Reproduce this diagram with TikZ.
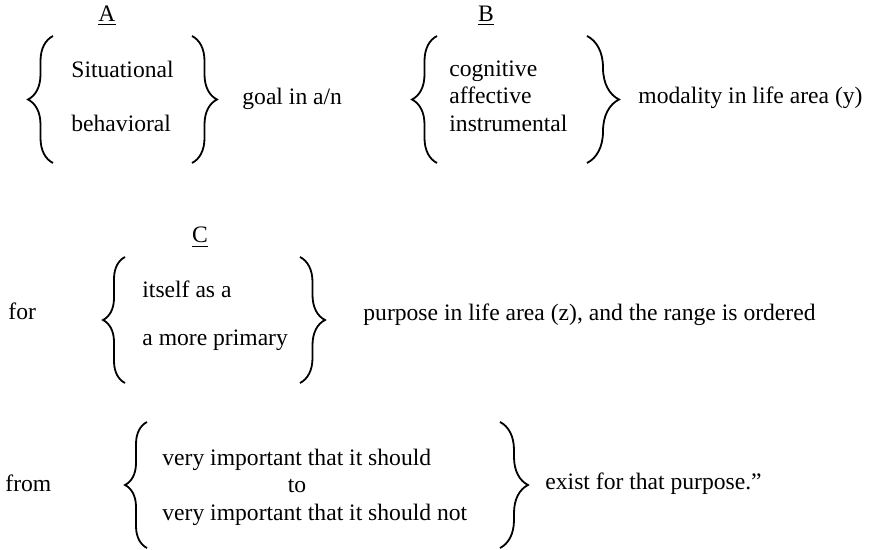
\documentclass[tikz,border=0pt]{standalone}
\usepackage{fontspec}
\setmainfont{Liberation Serif}
\usetikzlibrary{decorations.pathreplacing}

\begin{document}
\begin{tikzpicture}[x=0.5pt,y=-0.5pt,
    txt/.style={anchor=base west,inner sep=0pt,font=\fontsize{11.8}{14}\selectfont},
    head/.style={txt,anchor=base},
    curly/.style={decorate,line width=0.9pt,decoration={brace,amplitude=#1}}]
    \useasboundingbox (0,0) rectangle (871,550);
    % A
    \node[head] (A) at (107,22) {\underline{A}};
    \node[txt] (sit) at (71,78) {Situational};
    \node[txt] (beh) at (71,132) {behavioral};
    \node[txt] (goal) at (242,105) {goal in a/n};
    \draw[curly=12.5pt] (53,163) -- (53,36);
    \draw[curly=12.5pt] (192,36) -- (192,163);
    % B
    \node[head] (B) at (486,22) {\underline{B}};
    \node[txt] (cog) at (449,77) {cognitive};
    \node[txt] (aff) at (449,104) {affective};
    \node[txt] (ins) at (449,132) {instrumental};
    \node[txt] (mod) at (638,104) {modality in life area (y)};
    \draw[curly=12.5pt] (437,163) -- (437,36);
    \draw[curly=16pt] (587,36) -- (587,163);
    % C
    \node[head] (C) at (200,243) {\underline{C}};
    \node[txt] (for) at (8,320) {for};
    \node[txt] (its) at (142,298) {itself as a};
    \node[txt] (prim) at (142,345) {a more primary};
    \node[txt] (purp) at (363,321) {purpose in life area (z), and the range is ordered};
    \draw[curly=11pt] (125,383) -- (125,257);
    \draw[curly=12.5pt] (300,257) -- (300,383);
    % range
    \node[txt] (from) at (5,491) {from};
    \node[txt] (should) at (162,465) {very important that it should};
    \node[txt,anchor=base] (upto) at (297,492) {to};
    \node[txt] (shnot) at (162,520) {very important that it should not};
    \node[txt] (exist) at (545,489) {exist for that purpose.”};
    \draw[curly=11pt] (147,548) -- (147,422);
    \draw[curly=14pt] (500,422) -- (500,548);
\end{tikzpicture}
\end{document}
